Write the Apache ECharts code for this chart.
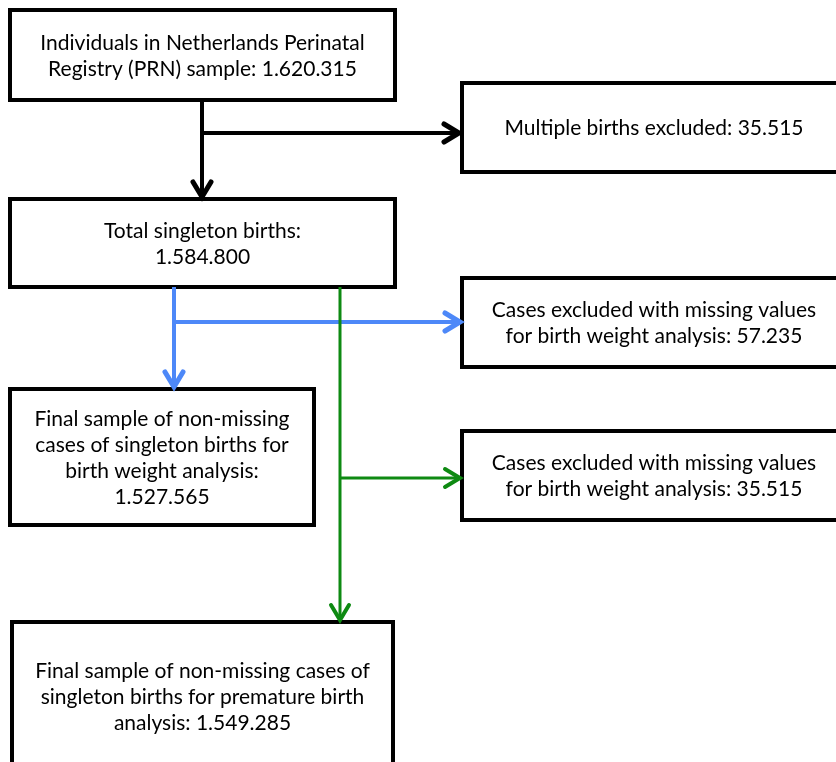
<!DOCTYPE html>
<html>
<head>
<meta charset="utf-8">
<script src="https://cdn.jsdelivr.net/npm/echarts@6/dist/echarts.min.js"></script>
<style>
  html, body { margin: 0; padding: 0; background: #fff; }
  #container { width: 836px; height: 762px; }
</style>
</head>
<body>
<div id="container"></div>
<script>
// box texts (counts as printed in the flowchart)
const boxLabels = [
  'Individuals in Netherlands Perinatal\nRegistry (PRN) sample: 1.620.315',
  'Multiple births excluded: 35.515',
  'Total singleton births:\n1.584.800',
  'Cases excluded with missing values\nfor birth weight analysis: 57.235',
  'Final sample of non-missing\ncases of singleton births for\nbirth weight analysis:\n1.527.565',
  'Cases excluded with missing values\nfor birth weight analysis: 35.515',
  'Final sample of non-missing cases of\nsingleton births for premature birth\nanalysis: 1.549.285'
]

// layout: box corners [x0, y0, x1, y1] in page units
const boxRects = [
  [10, 10, 395, 100],
  [462, 83, 846, 172],
  [10, 199, 395, 287],
  [462, 278, 846, 367],
  [10, 389, 314, 525],
  [462, 431, 846, 520],
  [12, 622, 393, 770]
]

// connectors: [x1, y1, x2, y2, colour index]
const links = [
  [202, 100, 202, 197, 0],
  [202, 133, 459, 133, 0],
  [174, 287, 174, 387, 1],
  [174, 322, 460, 322, 1],
  [340, 287, 340, 620, 2],
  [340, 478, 460, 478, 2]
]
const linkColors = ['#000000', '#4d88f8', '#0e8a12']

const fontFamily = 'Lato, "Open Sans", sans-serif'

const dom = document.getElementById('container')
const myChart = echarts.init(dom)

const option = {
  animation: false,
  grid: { left: 0, right: 0, top: 0, bottom: 0 },
  xAxis: { type: 'value', min: 0, max: 836, show: false },
  yAxis: { type: 'value', min: 0, max: 762, inverse: true, show: false },
  series: [
    {
      // boxes
      type: 'custom',
      clip: false,
      data: boxRects.map((r, i) => [r[0], r[1], r[2], r[3], i]),
      renderItem: function (params, api) {
        const p0 = api.coord([api.value(0), api.value(1)])
        const p1 = api.coord([api.value(2), api.value(3)])
        const idx = api.value(4)
        return {
          type: 'group',
          children: [
            {
              type: 'rect',
              shape: { x: p0[0], y: p0[1], width: p1[0] - p0[0], height: p1[1] - p0[1] },
              style: { fill: '#ffffff', stroke: '#000000', lineWidth: 4 }
            },
            {
              type: 'text',
              x: (p0[0] + p1[0]) / 2,
              y: (p0[1] + p1[1]) / 2 + 1,
              style: {
                text: boxLabels[idx],
                fontFamily: fontFamily,
                fontSize: 21,
                lineHeight: 26,
                align: 'center',
                verticalAlign: 'middle',
                fill: '#000000'
              }
            }
          ]
        }
      }
    },
    {
      // arrows
      type: 'custom',
      clip: false,
      z: 3,
      data: links,
      renderItem: function (params, api) {
        const a = api.coord([api.value(0), api.value(1)])
        const b = api.coord([api.value(2), api.value(3)])
        const color = linkColors[api.value(4)]
        const dx = b[0] - a[0]
        const dy = b[1] - a[1]
        const len = Math.sqrt(dx * dx + dy * dy)
        const ux = dx / len
        const uy = dy / len
        const depth = 15
        const half = 9
        const left = [b[0] - ux * depth - uy * half, b[1] - uy * depth + ux * half]
        const right = [b[0] - ux * depth + uy * half, b[1] - uy * depth - ux * half]
        const lw = api.value(4) === 2 ? 3 : 4
        return {
          type: 'group',
          children: [
            {
              type: 'line',
              shape: { x1: a[0], y1: a[1], x2: b[0], y2: b[1] },
              style: { stroke: color, lineWidth: lw }
            },
            {
              type: 'polyline',
              shape: { points: [left, b, right] },
              style: { stroke: color, fill: null, lineWidth: lw + 1, lineJoin: 'miter', lineCap: 'round' }
            }
          ]
        }
      }
    }
  ]
}

myChart.setOption(option)
window.addEventListener('resize', () => {
  myChart.resize()
})
</script>
</body>
</html>
